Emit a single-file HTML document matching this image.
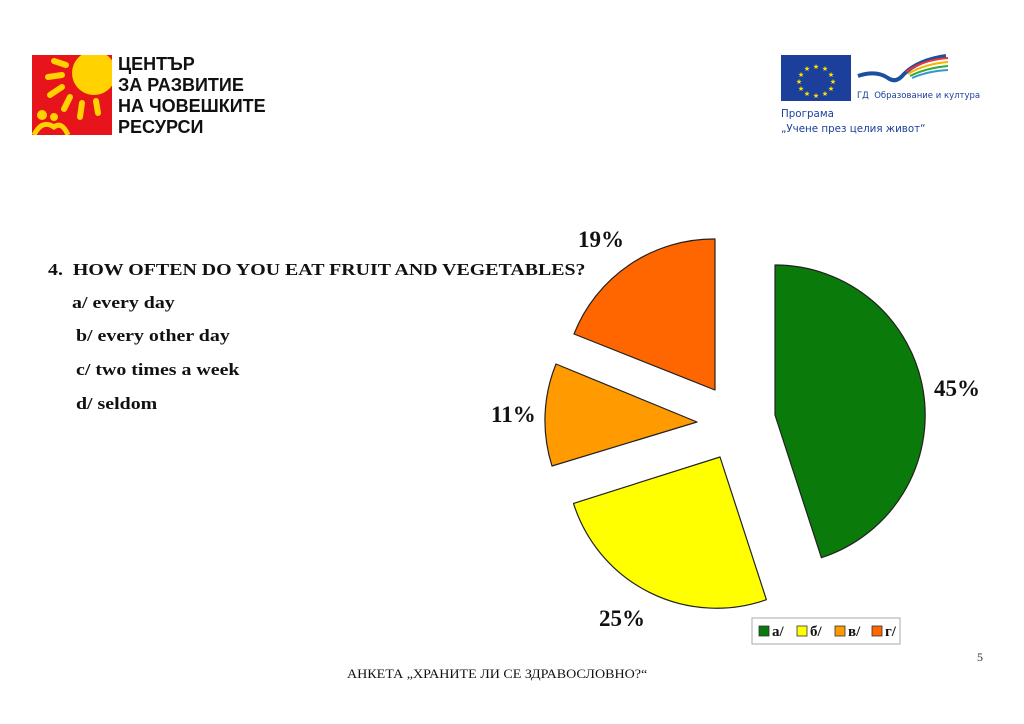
<!DOCTYPE html>
<html><head><meta charset="utf-8"><style>
html,body{margin:0;padding:0;background:#fff;}
body{width:1024px;height:724px;position:relative;overflow:hidden;font-family:"Liberation Serif",serif;}
.abs{position:absolute;}
.logo-t{font-family:"Liberation Sans","DejaVu Sans",sans-serif;font-weight:bold;font-size:18px;line-height:21px;color:#111;}
.q{font-weight:bold;font-size:17px;color:#111;white-space:nowrap;transform:scaleX(1.17);transform-origin:0 0;}
.pct{font-weight:bold;font-size:23px;color:#111;}
</style></head><body>
<svg class="abs" style="left:32px;top:55px" width="80" height="80" viewBox="0 0 80 80">
<rect width="80" height="80" fill="#e8141b"/>
<circle cx="62" cy="18" r="22" fill="#ffd200"/>
<g stroke="#ffd200" stroke-width="6" stroke-linecap="round">
<line x1="22" y1="6" x2="34" y2="10"/><line x1="16" y1="22" x2="30" y2="20"/>
<line x1="18" y1="40" x2="30" y2="32"/><line x1="32" y1="54" x2="38" y2="42"/>
<line x1="48" y1="62" x2="50" y2="48"/><line x1="66" y1="58" x2="64" y2="46"/>
</g>
<circle cx="10" cy="60" r="5" fill="#ffd200"/><circle cx="22" cy="62" r="4" fill="#ffd200"/>
<path d="M2 80 Q10 64 22 72 Q30 66 36 80" fill="none" stroke="#ffd200" stroke-width="5"/>
</svg>
<div class="abs logo-t" style="left:118px;top:54px">ЦЕНТЪР<br>ЗА РАЗВИТИЕ<br>НА ЧОВЕШКИТЕ<br>РЕСУРСИ</div>

<svg class="abs" style="left:781px;top:55px" width="70" height="46" viewBox="0 0 70 46">
<rect width="70" height="46" fill="#1b3f9a"/>
<g fill="#ffe400" font-size="7" font-family="DejaVu Sans" text-anchor="middle">
<text x="35" y="14">★</text><text x="44" y="16">★</text><text x="50" y="22">★</text><text x="52" y="29">★</text>
<text x="50" y="36">★</text><text x="44" y="41">★</text><text x="35" y="43">★</text><text x="26" y="41">★</text>
<text x="20" y="36">★</text><text x="18" y="29">★</text><text x="20" y="22">★</text><text x="26" y="16">★</text>
</g></svg>
<svg class="abs" style="left:856px;top:54px" width="95" height="36" viewBox="0 0 95 36">
<path d="M2 22 Q20 16 32 24 Q40 30 48 20 Q62 6 90 2" fill="none" stroke="#1b4fa0" stroke-width="4"/>
<path d="M50 18 Q66 6 92 4" stroke="#e33" stroke-width="2" fill="none"/>
<path d="M52 20 Q68 10 92 8" stroke="#f6b400" stroke-width="2" fill="none"/>
<path d="M54 22 Q70 14 92 12" stroke="#3a3" stroke-width="2" fill="none"/>
<path d="M56 24 Q72 17 92 16" stroke="#39c" stroke-width="2" fill="none"/>
</svg>
<div class="abs" style="left:857px;top:91px;font-family:'DejaVu Sans',sans-serif;font-size:8.5px;color:#1b3f9a;white-space:nowrap">ГД &nbsp;Образование и култура</div>
<div class="abs" style="left:781px;top:107px;font-family:'DejaVu Sans',sans-serif;font-size:10.3px;line-height:15px;color:#1b3f9a;white-space:nowrap">Програма<br>„Учене през целия живот“</div>

<div class="abs q" style="left:48px;top:260px">4.&nbsp; HOW OFTEN DO YOU EAT FRUIT AND VEGETABLES?</div>
<div class="abs q" style="left:72px;top:293px">a/ every day</div>
<div class="abs q" style="left:76px;top:326px">b/ every other day</div>
<div class="abs q" style="left:76px;top:360px">c/ two times a week</div>
<div class="abs q" style="left:76px;top:394px">d/ seldom</div>

<svg class="abs" style="left:0;top:0" width="1024" height="724">
<g stroke="#222" stroke-width="1.2" stroke-linejoin="round">
<path d="M775 415 L775 265 A150 150 0 0 1 821.4 557.7 Z" fill="#0a7a0a"/>
<path d="M720 457 L766.4 599.7 A150 150 0 0 1 573.5 503.4 Z" fill="#ffff00"/>
<path d="M697 422 L552 466 A150 150 0 0 1 556 364 Z" fill="#ff9a00"/>
<path d="M715 390 L574 334 A150 150 0 0 1 715 239 Z" fill="#ff6600"/>
</g>
<rect x="752" y="618" width="148" height="26" fill="#fff" stroke="#aaa" stroke-width="1"/>
<g stroke="#333" stroke-width="0.8">
<rect x="759" y="626" width="10" height="10" fill="#0a7a0a"/>
<rect x="797" y="626" width="10" height="10" fill="#ffff00"/>
<rect x="835" y="626" width="10" height="10" fill="#ff9a00"/>
<rect x="872" y="626" width="10" height="10" fill="#ff6600"/>
</g>
<g font-family="Liberation Serif" font-weight="bold" font-size="15" fill="#111">
<text x="772" y="636">а/</text><text x="810" y="636">б/</text><text x="848" y="636">в/</text><text x="885" y="636">г/</text>
</g>
</svg>
<div class="abs pct" style="left:578px;top:227px">19%</div>
<div class="abs pct" style="left:934px;top:376px">45%</div>
<div class="abs pct" style="left:491px;top:402px">11%</div>
<div class="abs pct" style="left:599px;top:606px">25%</div>

<div class="abs" style="left:977px;top:650px;font-size:12px;color:#333">5</div>
<div class="abs" style="left:347px;top:666px;font-size:13px;color:#111;white-space:nowrap;transform:scaleX(1.08);transform-origin:0 0">АНКЕТА „ХРАНИТЕ ЛИ СЕ ЗДРАВОСЛОВНО?“</div>
</body></html>
